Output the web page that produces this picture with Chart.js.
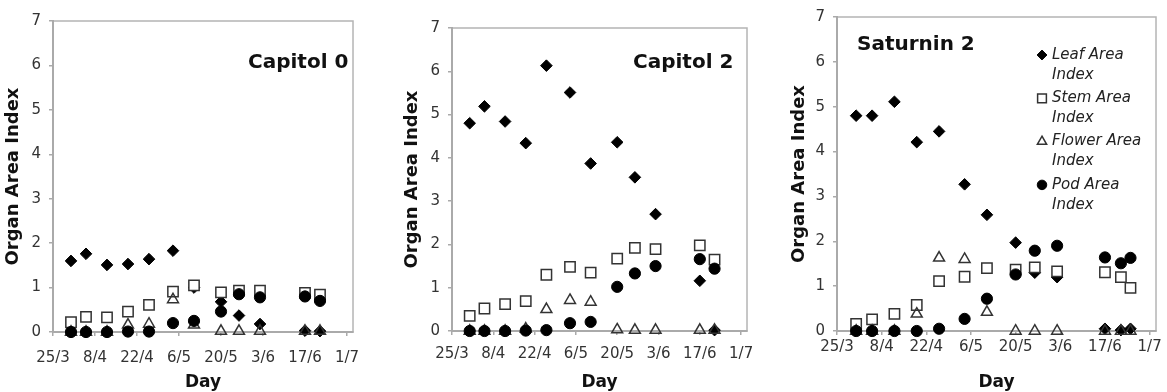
<!DOCTYPE html>
<html>
<head>
<meta charset="utf-8">
<script src="https://cdn.jsdelivr.net/npm/chart.js@4.4.1/dist/chart.umd.min.js"></script>
<style>
  body { margin: 0; background: #fff; }
  .panel { position: absolute; top: 0; }
</style>
</head>
<body>
<div class="panel" style="left:0px"><canvas id="cap0" width="390" height="392"></canvas></div>
<div class="panel" style="left:390px"><canvas id="cap2" width="385" height="392"></canvas></div>
<div class="panel" style="left:775px"><canvas id="sat2" width="392" height="392"></canvas></div>
<script>
// x axis: days since 25/3, ticks every two weeks
const tickDays = [0, 14, 28, 42, 56, 70, 84, 98];
const tickLabels = ['25/3', '8/4', '22/4', '6/5', '20/5', '3/6', '17/6', '1/7'];
const seriesNames = ['Leaf Area Index', 'Stem Area Index', 'Flower Area Index', 'Pod Area Index'];

// Capitol 0
const cap0Days = [6, 11, 18, 25, 32, 40, 47, 56, 62, 69, 84, 89];
const cap0Leaf = [1.60, 1.76, 1.51, 1.53, 1.64, 1.83, 1.00, 0.68, 0.37, 0.18, 0.03, 0.02];
const cap0Stem = [0.22, 0.34, 0.33, 0.46, 0.61, 0.91, 1.05, 0.89, 0.93, 0.93, 0.88, 0.84];
const cap0Flower = [0, 0, 0, 0.16, 0.18, 0.73, 0.16, 0.02, 0.02, 0.02, 0.02, 0.02];
const cap0Pod = [0, 0, 0, 0.01, 0.01, 0.20, 0.25, 0.46, 0.85, 0.78, 0.80, 0.70];

// Capitol 2
const cap2Days = [6, 11, 18, 25, 32, 40, 47, 56, 62, 69, 84, 89];
const cap2Leaf = [4.80, 5.19, 4.84, 4.34, 6.13, 5.51, 3.87, 4.36, 3.55, 2.70, 1.16, 0.02];
const cap2Stem = [0.35, 0.52, 0.62, 0.69, 1.30, 1.48, 1.35, 1.67, 1.92, 1.89, 1.98, 1.65];
const cap2Flower = [0, 0, 0, 0.05, 0.50, 0.71, 0.67, 0.03, 0.02, 0.02, 0.02, 0.02];
const cap2Pod = [0, 0, 0, 0.01, 0.02, 0.18, 0.21, 1.02, 1.33, 1.50, 1.66, 1.44];

// Saturnin 2
const sat2Days = [6, 11, 18, 25, 32, 40, 47, 56, 62, 69, 84, 89, 92];
const sat2Leaf = [4.80, 4.80, 5.11, 4.21, 4.45, 3.27, 2.59, 1.97, 1.30, 1.20, 0.05, 0.02, 0.05];
const sat2Stem = [0.16, 0.26, 0.38, 0.58, 1.11, 1.21, 1.40, 1.37, 1.42, 1.33, 1.31, 1.20, 0.96];
const sat2Flower = [0, 0, 0, 0.38, 1.63, 1.60, 0.42, 0, 0, 0, 0, 0, 0];
const sat2Pod = [0, 0, 0, 0, 0.05, 0.27, 0.72, 1.26, 1.79, 1.90, 1.64, 1.51, 1.63];

const FONT = "'DejaVu Sans', Verdana, sans-serif";

const markerStyles = [
    { pointStyle: 'rectRot', radius: 5.8, backgroundColor: '#000', borderColor: '#000', borderWidth: 1 },
    { pointStyle: 'rect', radius: 7.3, backgroundColor: '#fff', borderColor: '#333', borderWidth: 1.5 },
    { pointStyle: 'triangle', radius: 6.3, backgroundColor: 'rgba(0,0,0,0)', borderColor: '#333', borderWidth: 1.5 },
    { pointStyle: 'circle', radius: 5.6, backgroundColor: '#000', borderColor: '#000', borderWidth: 1 }
];

// plot-area box (Excel style)
const boxPlugin = {
    id: 'box',
    beforeDraw(chart) {
        const a = chart.chartArea, ctx = chart.ctx;
        ctx.save();
        ctx.strokeStyle = '#b4b4b4';
        ctx.lineWidth = 1.5;
        ctx.strokeRect(a.left, a.top, a.right - a.left, a.bottom - a.top);
        ctx.restore();
    }
};

// panel name written inside the plot
const panelTitlePlugin = {
    id: 'panelTitle',
    afterDatasetsDraw(chart, args, opts) {
        const ctx = chart.ctx;
        ctx.save();
        ctx.font = 'bold 20px ' + FONT;
        ctx.fillStyle = '#111';
        ctx.textBaseline = 'middle';
        ctx.textAlign = 'left';
        ctx.fillText(opts.text, opts.x, opts.y);
        ctx.restore();
    }
};

// two-line legend, only on the last panel
const sideLegendPlugin = {
    id: 'sideLegend',
    afterDatasetsDraw(chart, args, opts) {
        if (!opts.show) return;
        const ctx = chart.ctx;
        ctx.save();
        ctx.font = 'italic 15px ' + FONT;
        ctx.textBaseline = 'middle';
        ctx.textAlign = 'left';
        chart.data.datasets.forEach((ds, i) => {
            const y = opts.y + i * opts.step;
            const m = markerStyles[i];
            ctx.fillStyle = m.backgroundColor;
            ctx.strokeStyle = m.borderColor;
            ctx.lineWidth = m.borderWidth;
            Chart.helpers.drawPoint(ctx, { pointStyle: m.pointStyle, radius: m.radius * 0.85, borderWidth: m.borderWidth }, opts.x, y);
            const cut = ds.label.lastIndexOf(' ');
            ctx.fillStyle = '#222';
            ctx.fillText(ds.label.slice(0, cut), opts.x + 10, y);
            ctx.fillText(ds.label.slice(cut + 1), opts.x + 10, y + 20);
        });
        ctx.restore();
    }
};

function makePanel(id, days, series, lay) {
    const datasets = series.map((vals, i) => ({
        label: seriesNames[i],
        data: days.map((d, j) => ({ x: d, y: vals[j] })),
        pointStyle: markerStyles[i].pointStyle,
        pointRadius: markerStyles[i].radius,
        pointBackgroundColor: markerStyles[i].backgroundColor,
        pointBorderColor: markerStyles[i].borderColor,
        pointBorderWidth: markerStyles[i].borderWidth,
        showLine: false,
        clip: false,
        order: 4 - i
    }));

    return new Chart(document.getElementById(id), {
        type: 'scatter',
        data: { datasets },
        plugins: [boxPlugin, panelTitlePlugin, sideLegendPlugin],
        options: {
            responsive: false,
            animation: false,
            devicePixelRatio: 1,
            layout: { padding: { top: lay.top, right: lay.right, left: 0, bottom: 0 } },
            plugins: {
                legend: { display: false },
                tooltip: { enabled: false },
                panelTitle: lay.title,
                sideLegend: lay.legend || { show: false }
            },
            scales: {
                x: {
                    type: 'linear',
                    min: 0,
                    max: 100,
                    afterBuildTicks: s => { s.ticks = tickDays.map(v => ({ value: v })); },
                    afterFit: s => { s.height = lay.xH; },
                    ticks: {
                        autoSkip: false,
                        maxRotation: 0,
                        padding: lay.xPad,
                        color: '#333',
                        font: { family: FONT, size: 15 },
                        callback: v => tickLabels[tickDays.indexOf(v)]
                    },
                    grid: { drawOnChartArea: false, tickLength: 4, color: '#aaa', lineWidth: 1.5 },
                    border: { color: '#aaa', width: 2 },
                    title: {
                        display: true,
                        text: 'Day',
                        color: '#111',
                        font: { family: FONT, size: 17, weight: 'bold', lineHeight: 1.1 },
                        padding: { top: 0, bottom: 0 }
                    }
                },
                y: {
                    min: 0,
                    max: 7,
                    afterFit: s => { s.width = lay.yW; },
                    ticks: {
                        stepSize: 1,
                        padding: 8,
                        color: '#333',
                        font: { family: FONT, size: 15 }
                    },
                    grid: { drawOnChartArea: false, tickLength: 4, color: '#aaa', lineWidth: 1.5 },
                    border: { color: '#aaa', width: 2 },
                    title: {
                        display: true,
                        text: 'Organ Area Index',
                        color: '#111',
                        font: { family: FONT, size: 18, weight: 'bold' },
                        padding: { top: lay.yTitlePad, bottom: 0 }
                    }
                }
            }
        }
    });
}

makePanel('cap0', cap0Days, [cap0Leaf, cap0Stem, cap0Flower, cap0Pod], {
    top: 21, right: 37, yW: 53, xH: 60, xPad: 13, yTitlePad: 3,
    title: { text: 'Capitol 0', x: 248, y: 63 }
});

makePanel('cap2', cap2Days, [cap2Leaf, cap2Stem, cap2Flower, cap2Pod], {
    top: 28, right: 28, yW: 62, xH: 61, xPad: 10, yTitlePad: 12,
    title: { text: 'Capitol 2', x: 243, y: 63 }
});

makePanel('sat2', sat2Days, [sat2Leaf, sat2Stem, sat2Flower, sat2Pod], {
    top: 15, right: 11, yW: 62, xH: 61, xPad: 3, yTitlePad: 14,
    title: { text: 'Saturnin 2', x: 82, y: 45 },
    legend: { show: true, x: 267, y: 55, step: 43.3 }
});
</script>
</body>
</html>
